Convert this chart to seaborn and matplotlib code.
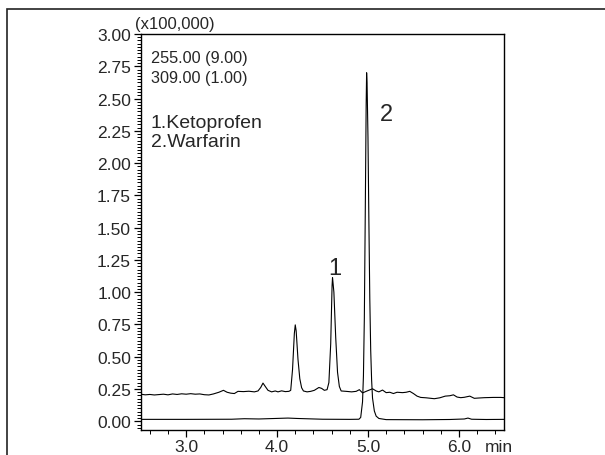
import numpy as np
import pandas as pd
import seaborn as sns
import matplotlib.pyplot as plt
from matplotlib.ticker import MultipleLocator, FormatStrFormatter
from matplotlib.patches import Rectangle

# m/z 255.00 (x9.00) trace - ketoprofen
t_255 = [2.50, 2.55, 2.60, 2.65, 2.70, 2.75, 2.80, 2.85, 2.90, 2.95, 3.00, 3.05, 3.10, 3.15,
         3.20, 3.25, 3.30, 3.36, 3.41, 3.45, 3.49, 3.53, 3.57, 3.63, 3.69, 3.75, 3.79, 3.82,
         3.845, 3.87, 3.90, 3.94, 3.98, 4.01, 4.05, 4.09, 4.13, 4.15, 4.17, 4.19, 4.20, 4.21,
         4.23, 4.25, 4.27, 4.29, 4.33, 4.37, 4.41, 4.46, 4.49, 4.52, 4.55, 4.57, 4.59, 4.605,
         4.61, 4.625, 4.645, 4.665, 4.685, 4.705, 4.76, 4.82, 4.87, 4.905, 4.94, 4.99, 5.05,
         5.09, 5.12, 5.16, 5.20, 5.24, 5.28, 5.32, 5.38, 5.42, 5.46, 5.50, 5.54, 5.58, 5.64,
         5.73, 5.79, 5.85, 5.90, 5.94, 5.98, 6.02, 6.06, 6.12, 6.17, 6.21, 6.28, 6.38, 6.46, 6.50]
i_255 = [0.210, 0.205, 0.208, 0.204, 0.207, 0.210, 0.205, 0.212, 0.208, 0.213, 0.210, 0.214,
         0.210, 0.212, 0.206, 0.204, 0.212, 0.225, 0.240, 0.225, 0.218, 0.215, 0.232, 0.230,
         0.233, 0.228, 0.235, 0.262, 0.296, 0.270, 0.240, 0.228, 0.235, 0.228, 0.236, 0.230,
         0.232, 0.240, 0.400, 0.680, 0.747, 0.700, 0.480, 0.330, 0.260, 0.235, 0.228, 0.232,
         0.240, 0.262, 0.255, 0.240, 0.245, 0.300, 0.600, 1.050, 1.114, 1.000, 0.650, 0.380,
         0.270, 0.235, 0.232, 0.228, 0.232, 0.245, 0.220, 0.235, 0.252, 0.235, 0.228, 0.242,
         0.222, 0.225, 0.215, 0.225, 0.222, 0.225, 0.232, 0.215, 0.195, 0.185, 0.182, 0.175,
         0.182, 0.195, 0.198, 0.205, 0.188, 0.183, 0.186, 0.195, 0.178, 0.180, 0.183, 0.185,
         0.185, 0.183]

# m/z 309.00 (x1.00) trace - warfarin
t_309 = [2.50, 3.00, 3.50, 3.64, 3.80, 4.12, 4.22, 4.50, 4.80, 4.90, 4.92, 4.94, 4.95, 4.96,
         4.97, 4.98, 4.985, 4.99, 5.00, 5.01, 5.02, 5.03, 5.04, 5.05, 5.07, 5.09, 5.12, 5.20,
         5.60, 5.90, 6.06, 6.10, 6.14, 6.30, 6.50]
i_309 = [0.015, 0.015, 0.016, 0.020, 0.018, 0.025, 0.022, 0.016, 0.015, 0.016, 0.030, 0.150,
         0.350, 0.800, 1.600, 2.450, 2.700, 2.620, 2.200, 1.550, 0.950, 0.550, 0.320, 0.180,
         0.080, 0.040, 0.022, 0.013, 0.012, 0.014, 0.018, 0.025, 0.016, 0.014, 0.015]

x_ticks = [3.0, 4.0, 5.0, 6.0]
y_ticks = [0.00, 0.25, 0.50, 0.75, 1.00, 1.25, 1.50, 1.75, 2.00, 2.25, 2.50, 2.75, 3.00]

sns.set_theme(style='ticks')
plt.rcParams['font.family'] = ['Liberation Sans', 'DejaVu Sans']

fig = plt.figure(figsize=(6.05, 4.56), dpi=100)
ax = fig.add_axes([0.2326, 0.0555, 0.601, 0.8677])

df_255 = pd.DataFrame({'time': t_255, 'intensity': i_255})
df_309 = pd.DataFrame({'time': t_309, 'intensity': i_309})
sns.lineplot(data=df_255, x='time', y='intensity', color='black', lw=0.8,
             estimator=None, sort=False, ax=ax)
sns.lineplot(data=df_309, x='time', y='intensity', color='black', lw=0.8,
             estimator=None, sort=False, ax=ax)

ax.set_xlim(2.5, 6.5)
ax.set_ylim(-0.065, 3.0)
ax.set_xticks(x_ticks)
ax.set_yticks(y_ticks)
ax.xaxis.set_minor_locator(MultipleLocator(0.2))
ax.yaxis.set_minor_locator(MultipleLocator(0.025))
ax.xaxis.set_major_formatter(FormatStrFormatter('%.1f'))
ax.yaxis.set_major_formatter(FormatStrFormatter('%.2f'))
ax.set_xlabel('')
ax.set_ylabel('')
for s in ax.spines.values():
    s.set_linewidth(1.0)
    s.set_color('black')
ax.tick_params(which='major', length=5, width=0.9, labelsize=12.5, pad=2, color='black')
ax.tick_params(which='minor', length=3, width=0.7, color='black')

ax.text(-0.015, 1.008, '(x100,000)', transform=ax.transAxes, fontsize=12, va='bottom', ha='left')
ax.text(2.61, 2.82, '255.00 (9.00)', fontsize=11.7, va='center')
ax.text(2.61, 2.66, '309.00 (1.00)', fontsize=11.7, va='center')
ax.text(2.61, 2.315, '1.Ketoprofen', fontsize=14, va='center')
ax.text(2.61, 2.17, '2.Warfarin', fontsize=14, va='center')
ax.text(4.636, 1.19, '1', fontsize=17, ha='center', va='center')
ax.text(5.205, 2.377, '2', fontsize=17, ha='center', va='center')
ax.annotate('min', xy=(6.44, 0), xycoords=('data', 'axes fraction'), xytext=(0, -7),
            textcoords='offset points', ha='center', va='top', fontsize=12.5)

# outer frame of the original screenshot
fig.add_artist(Rectangle((7 / 605, -0.1), 1.2, 1 - 9.5 / 456 + 0.1, transform=fig.transFigure,
                         fill=False, edgecolor='#222222', lw=1.2))

fig.savefig('out.png', dpi=100)
